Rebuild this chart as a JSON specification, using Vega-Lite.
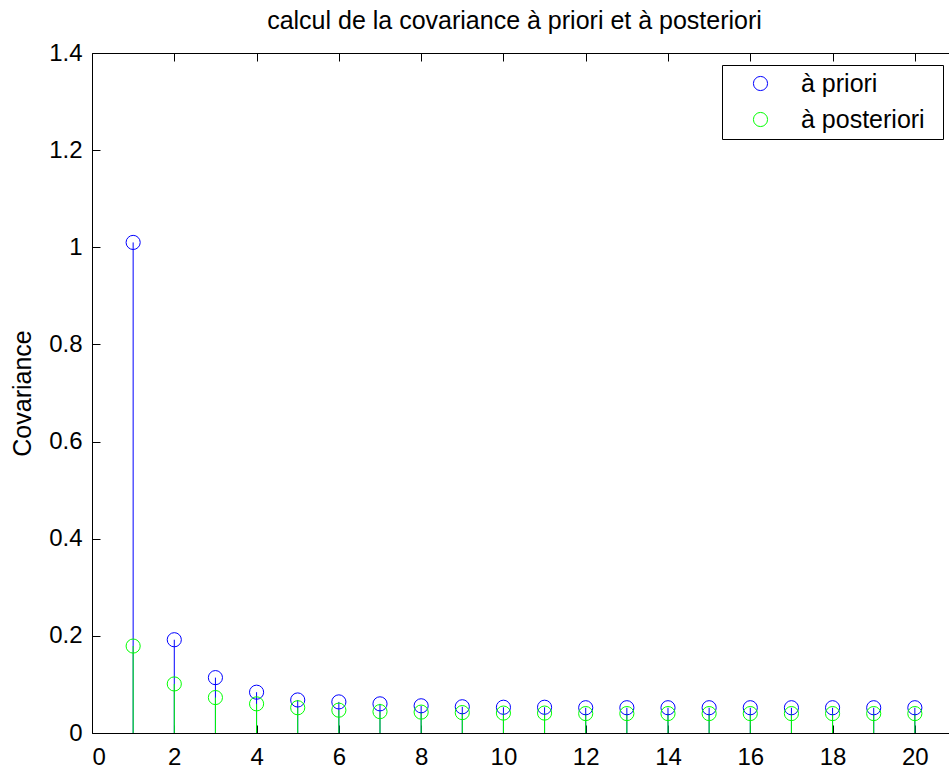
{
  "$schema": "https://vega.github.io/schema/vega-lite/v6.json",
  "autosize": "none",
  "padding": {"left": 92, "top": 53, "right": 0, "bottom": 39},
  "width": 857,
  "height": 680,
  "background": "white",
  "title": {
    "text": "calcul de la covariance à priori et à posteriori",
    "fontSize": 25,
    "fontWeight": "normal",
    "font": "Liberation Sans",
    "color": "black",
    "anchor": "middle",
    "frame": "group",
    "baseline": "alphabetic",
    "offset": -13,
    "dx": -6
  },
  "config": {
    "view": {"stroke": null},
    "font": "Liberation Sans",
    "axis": {
      "grid": false,
      "domainColor": "black",
      "domainWidth": 1,
      "tickColor": "black",
      "tickWidth": 1,
      "labelFont": "Liberation Sans",
      "labelFontSize": 24,
      "labelColor": "black",
      "titleFont": "Liberation Sans",
      "titleFontSize": 25,
      "titleFontWeight": "normal",
      "titleColor": "black"
    }
  },
  "data": {
    "values": [
      {"x": 1, "serie": "à priori", "value": 1.01},
      {"x": 2, "serie": "à priori", "value": 0.192},
      {"x": 3, "serie": "à priori", "value": 0.114},
      {"x": 4, "serie": "à priori", "value": 0.084},
      {"x": 5, "serie": "à priori", "value": 0.068},
      {"x": 6, "serie": "à priori", "value": 0.064},
      {"x": 7, "serie": "à priori", "value": 0.06},
      {"x": 8, "serie": "à priori", "value": 0.056},
      {"x": 9, "serie": "à priori", "value": 0.054},
      {"x": 10, "serie": "à priori", "value": 0.053},
      {"x": 11, "serie": "à priori", "value": 0.053},
      {"x": 12, "serie": "à priori", "value": 0.052},
      {"x": 13, "serie": "à priori", "value": 0.052},
      {"x": 14, "serie": "à priori", "value": 0.052},
      {"x": 15, "serie": "à priori", "value": 0.052},
      {"x": 16, "serie": "à priori", "value": 0.052},
      {"x": 17, "serie": "à priori", "value": 0.052},
      {"x": 18, "serie": "à priori", "value": 0.052},
      {"x": 19, "serie": "à priori", "value": 0.052},
      {"x": 20, "serie": "à priori", "value": 0.052},
      {"x": 1, "serie": "à posteriori", "value": 0.179},
      {"x": 2, "serie": "à posteriori", "value": 0.101},
      {"x": 3, "serie": "à posteriori", "value": 0.073},
      {"x": 4, "serie": "à posteriori", "value": 0.06},
      {"x": 5, "serie": "à posteriori", "value": 0.052},
      {"x": 6, "serie": "à posteriori", "value": 0.047},
      {"x": 7, "serie": "à posteriori", "value": 0.044},
      {"x": 8, "serie": "à posteriori", "value": 0.043},
      {"x": 9, "serie": "à posteriori", "value": 0.042},
      {"x": 10, "serie": "à posteriori", "value": 0.041},
      {"x": 11, "serie": "à posteriori", "value": 0.041},
      {"x": 12, "serie": "à posteriori", "value": 0.04},
      {"x": 13, "serie": "à posteriori", "value": 0.04},
      {"x": 14, "serie": "à posteriori", "value": 0.04},
      {"x": 15, "serie": "à posteriori", "value": 0.04},
      {"x": 16, "serie": "à posteriori", "value": 0.04},
      {"x": 17, "serie": "à posteriori", "value": 0.04},
      {"x": 18, "serie": "à posteriori", "value": 0.04},
      {"x": 19, "serie": "à posteriori", "value": 0.04},
      {"x": 20, "serie": "à posteriori", "value": 0.04}
    ]
  },
  "resolve": {"axis": {"x": "independent"}},
  "layer": [
    {
      "mark": {"type": "rule", "strokeWidth": 1},
      "encoding": {
        "x": {
          "field": "x",
          "type": "quantitative",
          "scale": {"domain": [0, 20.83], "nice": false, "zero": false},
          "axis": {
            "values": [0, 2, 4, 6, 8, 10, 12, 14, 16, 18, 20],
            "format": "d",
            "title": null,
            "tickSize": -8,
            "labelPadding": 20
          }
        },
        "y": {
          "field": "value",
          "type": "quantitative",
          "scale": {"domain": [0, 1.4], "nice": false},
          "axis": {
            "values": [0, 0.2, 0.4, 0.6, 0.8, 1, 1.2, 1.4],
            "format": "~g",
            "title": "Covariance",
            "tickSize": -8,
            "labelPadding": 18,
            "titlePadding": 13
          }
        },
        "y2": {"datum": 0},
        "color": {
          "field": "serie",
          "type": "nominal",
          "scale": {"domain": ["à priori", "à posteriori"], "range": ["#0000FF", "#00FF00"]}
        }
      }
    },
    {
      "mark": {"type": "point", "shape": "circle", "filled": false, "size": 200, "strokeWidth": 1, "opacity": 1},
      "encoding": {
        "x": {
          "field": "x",
          "type": "quantitative",
          "axis": {
            "orient": "top",
            "values": [0, 2, 4, 6, 8, 10, 12, 14, 16, 18, 20],
            "labels": false,
            "title": null,
            "tickSize": -8
          }
        },
        "y": {"field": "value", "type": "quantitative"},
        "color": {
          "field": "serie",
          "type": "nominal",
          "legend": {
            "title": "\u00a0",
            "titleOrient": "right",
            "titlePadding": 12,
            "titleFontSize": 10,
            "orient": "none",
            "legendX": 630,
            "legendY": 12,
            "padding": 6,
            "strokeColor": "black",
            "fillColor": "white",
            "symbolType": "circle",
            "symbolSize": 200,
            "symbolStrokeWidth": 1,
            "symbolFillColor": "transparent",
            "symbolOffset": 20,
            "labelOffset": 28,
            "labelFontSize": 25,
            "labelFont": "Liberation Sans",
            "labelColor": "black",
            "rowPadding": 10
          }
        }
      }
    }
  ]
}
